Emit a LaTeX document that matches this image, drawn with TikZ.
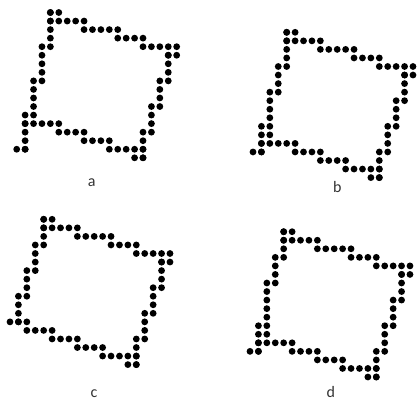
\documentclass[tikz,border=0pt]{standalone}
\usepackage{fontspec}
\setmainfont{Carlito}
\usepackage{tikz}
\usetikzlibrary{positioning}
\tikzset{
	pixdot/.style={fill=black}
}
\tikzset{
	figlabel/.style={font=\fontsize{12}{14}\selectfont\color{black!80}, inner sep=0pt, anchor=center}
}
% one run of dots along a row, or down a column
\newcommand{\hrun}[3]{\foreach \cx in {#2,...,#3} {\fill[pixdot] (\cx,#1) circle (2.55pt);}}
\newcommand{\vrun}[3]{\foreach \ry in {#2,...,#3} {\fill[pixdot] (#1,\ry) circle (2.55pt);}}

\begin{document}
\begin{tikzpicture}[x=0.75pt, y=0.75pt]
      \useasboundingbox (0,0) rectangle (417,-401);
      % shape a
      \begin{scope}[shift={(16.7,-12.5)}, x=6.315pt, y=-6.41pt]
        \foreach \r/\a/\b in {0/4/5, 1/4/8, 2/8/12, 3/12/15, 4/15/19, 5/18/19,
            13/1/5, 14/5/8, 15/8/11, 16/11/15, 17/14/15, 16/0/1} {\hrun{\r}{\a}{\b}}
        \foreach \k/\a/\b in {4/0/4, 3/4/8, 2/8/12, 1/12/16,
            18/5/8, 17/8/11, 16/11/14, 15/14/17} {\vrun{\k}{\a}{\b}}
      \end{scope}
      % shape b
      \begin{scope}[shift={(253,-32.3)}, x=6.315pt, y=-6.41pt]
        \foreach \r/\a/\b in {0/4/5, 1/4/8, 2/8/12, 3/12/15, 4/15/19, 5/18/19,
            13/1/5, 14/5/8, 14/0/1, 15/8/11, 16/11/15, 17/14/15} {\hrun{\r}{\a}{\b}}
        \foreach \k/\a/\b in {4/0/4, 3/4/7, 2/7/12, 1/11/14,
            18/5/8, 17/8/11, 16/11/14, 15/14/17} {\vrun{\k}{\a}{\b}}
      \end{scope}
      % shape c
      \begin{scope}[shift={(10,-219.3)}, x=6.315pt, y=-6.41pt]
        \foreach \r/\a/\b in {0/4/5, 1/4/8, 2/8/12, 3/12/15, 4/15/19, 5/18/19,
            12/0/2, 13/2/5, 14/5/8, 15/8/11, 16/11/15, 17/14/15} {\hrun{\r}{\a}{\b}}
        \foreach \k/\a/\b in {4/0/3, 3/3/6, 2/6/9, 1/9/12,
            18/5/8, 17/8/11, 16/11/14, 15/14/17} {\vrun{\k}{\a}{\b}}
      \end{scope}
      % shape d
      \begin{scope}[shift={(250,-231.7)}, x=6.315pt, y=-6.41pt]
        \foreach \r/\a/\b in {0/4/5, 1/4/8, 2/8/12, 3/12/15, 4/15/19, 5/18/19,
            13/1/5, 14/0/1, 14/5/8, 15/8/11, 16/11/15, 17/14/15} {\hrun{\r}{\a}{\b}}
        \foreach \k/\a/\b in {4/0/3, 3/3/6, 2/6/12, 1/11/14,
            18/5/8, 17/8/11, 16/11/14, 15/14/17} {\vrun{\k}{\a}{\b}}
      \end{scope}
      % labels
      \node[figlabel] (lbla) at (91.7,-182.7) {a};
      \node[figlabel] (lblb) at (337.3,-186.7) {b};
      \node[figlabel] (lblc) at (94,-393.3) {c};
      \node[figlabel] (lbld) at (330.7,-391.7) {d};
\end{tikzpicture}
\end{document}
